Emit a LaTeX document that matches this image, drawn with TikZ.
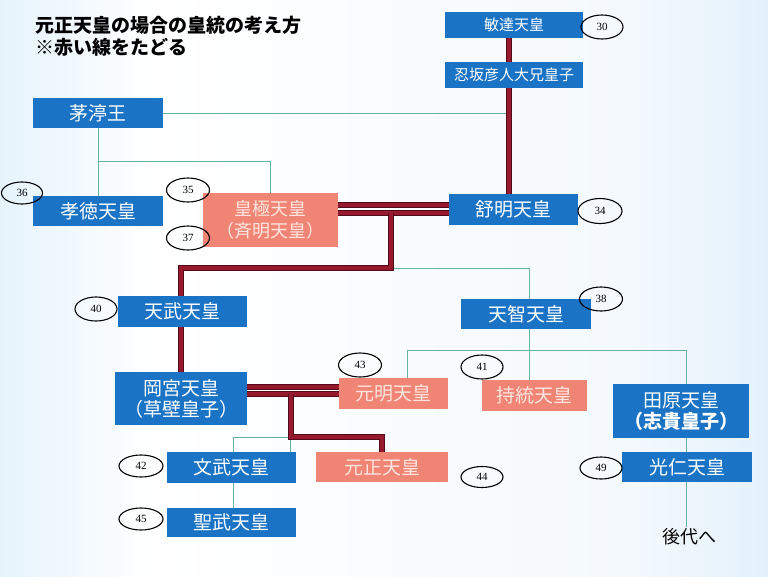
\documentclass[tikz,border=0pt]{standalone}
\usepackage{fontspec}
\setmainfont{Noto Sans CJK JP}
\newfontfamily\numfont{Liberation Serif}
\usetikzlibrary{shapes.geometric}
\pgfdeclarelayer{bg}
\pgfdeclarelayer{lines}
\pgfsetlayers{bg,lines,main}
\definecolor{boxblue}{RGB}{26,115,196}
\definecolor{salmon}{RGB}{241,133,117}
\definecolor{salmontext}{RGB}{253,228,222}
\definecolor{redfill}{RGB}{150,25,45}
\definecolor{redborder}{RGB}{80,10,25}
\definecolor{greenline}{RGB}{100,180,155}
\definecolor{bgA}{RGB}{158,208,242}
\definecolor{bgB}{RGB}{192,226,248}
\definecolor{bgC}{RGB}{244,249,253}
\definecolor{bgD}{RGB}{205,230,249}
\definecolor{bgE}{RGB}{172,215,245}
\pgfdeclarehorizontalshading{bgshade}{100bp}{color(0bp)=(bgA); color(10bp)=(bgB); color(35bp)=(white); color(66bp)=(bgC); color(88bp)=(bgD); color(100bp)=(bgE)}
\tikzset{
  bluebox/.style={fill=boxblue, text=white, inner sep=0pt, align=center, font=\fontsize{19}{21}\selectfont},
  pinkbox/.style={fill=salmon, text=salmontext, inner sep=0pt, align=center, font=\fontsize{19}{21}\selectfont},
  num/.style={ellipse, draw=black, line width=1.1pt, inner sep=0pt, font=\numfont\fontsize{11}{12}\selectfont},
  redline/.style={draw=redfill, line width=3.4pt, line join=miter, preaction={draw=redborder, line width=5.4pt, line join=miter}},
  greenl/.style={draw=greenline, line width=1pt},
  titletext/.style={anchor=base west, inner sep=0pt, font=\fontsize{19}{23}\selectfont\bfseries}
}
\begin{document}
\begin{tikzpicture}[x=1pt,y=-1pt]
\useasboundingbox (0,0) rectangle (768,576);
\begin{pgfonlayer}{bg}
\shade[shading=bgshade] (0,0) rectangle (768,576);
\end{pgfonlayer}

% title
\node[titletext] (t1) at (35,32) {元正天皇の場合の皇統の考え方};
\node[titletext] (t2) at (35,54) {※赤い線をたどる};

% boxes
\node[bluebox, minimum width=138pt, minimum height=26pt, font=\fontsize{15}{17}\selectfont] (bidatsu) at (514,25) {敏達天皇};
\node[bluebox, minimum width=138pt, minimum height=26pt, font=\fontsize{15}{17}\selectfont] (oshisaka) at (514,75) {忍坂彦人大兄皇子};
\node[bluebox, minimum width=130pt, minimum height=30pt] (chinu) at (98,113) {茅渟王};
\node[bluebox, minimum width=130pt, minimum height=30pt] (kotoku) at (98,211) {孝徳天皇};
\node[pinkbox, minimum width=135pt, minimum height=54pt, font=\fontsize{18}{22}\selectfont] (kogyoku) at (270.5,220) {皇極天皇\\（斉明天皇）};
\node[bluebox, minimum width=129pt, minimum height=31pt] (jomei) at (513.5,209.5) {舒明天皇};
\node[bluebox, minimum width=129pt, minimum height=31pt] (tenmu) at (182.5,311.5) {天武天皇};
\node[bluebox, minimum width=130pt, minimum height=30pt] (tenji) at (526,314) {天智天皇};
\node[bluebox, minimum width=132pt, minimum height=53pt, font=\fontsize{19}{21}\selectfont] (okamiya) at (181,398.5) {岡宮天皇\\（草壁皇子）};
\node[pinkbox, minimum width=109pt, minimum height=31pt] (genmei) at (393.5,393.5) {元明天皇};
\node[pinkbox, minimum width=105pt, minimum height=31pt] (jito) at (534.5,395.5) {持統天皇};
\node[bluebox, minimum width=136pt, minimum height=54pt, font=\fontsize{19}{21}\selectfont] (tahara) at (681,411) {田原天皇\\\textbf{（志貴皇子）}};
\node[bluebox, minimum width=130pt, minimum height=30pt] (konin) at (687,467) {光仁天皇};
\node[pinkbox, minimum width=132pt, minimum height=30pt] (gensho) at (382,467) {元正天皇};
\node[bluebox, minimum width=129pt, minimum height=31pt] (monmu) at (231.5,467.5) {文武天皇};
\node[bluebox, minimum width=129pt, minimum height=29pt] (shomu) at (231.5,522.5) {聖武天皇};
\node[inner sep=2pt, font=\fontsize{18}{20}\selectfont, text=black] (later) at (689,537) {後代へ};

% numbers
\node[num, minimum width=42pt, minimum height=24pt] (e30) at (602,27) {30};
\node[num, minimum width=41pt, minimum height=22pt] (e36) at (22,193) {36};
\node[num, minimum width=43pt, minimum height=24pt] (e35) at (188,190) {35};
\node[num, minimum width=43pt, minimum height=24pt] (e37) at (188,238) {37};
\node[num, minimum width=44pt, minimum height=25pt] (e34) at (600,211) {34};
\node[num, minimum width=42pt, minimum height=24pt] (e40) at (96,309) {40};
\node[num, minimum width=43pt, minimum height=24pt] (e38) at (601,299) {38};
\node[num, minimum width=43pt, minimum height=24pt] (e43) at (360,365) {43};
\node[num, minimum width=42pt, minimum height=24pt] (e41) at (482,367) {41};
\node[num, minimum width=42pt, minimum height=21pt] (e44) at (482,477) {44};
\node[num, minimum width=44pt, minimum height=22pt] (e42) at (141,466) {42};
\node[num, minimum width=44pt, minimum height=22pt] (e45) at (141,519) {45};
\node[num, minimum width=42pt, minimum height=22pt] (e49) at (601,468) {49};

\begin{pgfonlayer}{lines}
% green connectors
\draw[greenl] (chinu.east) -- (509,113);
\draw[greenl] (98,0 |- chinu.south) -- (98,0 |- kotoku.north);
\draw[greenl] (98,161) -- (270,161) -- (270,0 |- kogyoku.north);
\draw[greenl] (391,268) -- (529,268) -- (529,0 |- tenji.north);
\draw[greenl] (529,0 |- tenji.south) -- (529,0 |- jito.north);
\draw[greenl] (407,0 |- genmei.north) -- (407,350) -- (686,350) -- (686,0 |- tahara.north);
\draw[greenl] (686,0 |- tahara.south) -- (686,0 |- later.north);
\draw[greenl] (291,437) -- (233,437) -- (233,0 |- monmu.north);
\draw[greenl] (290,437) -- (290,0 |- monmu.north);
\draw[greenl] (233,0 |- monmu.south) -- (233,0 |- shomu.north);
% red line of descent
\draw[redline] (509,0 |- bidatsu.south) -- (509,0 |- oshisaka.north);
\draw[redline] (509,0 |- oshisaka.south) -- (509,0 |- jomei.north);
\draw[redline] (kogyoku.east |- 0,205) -- (jomei.west |- 0,205);
\draw[redline] (kogyoku.east |- 0,213) -- (jomei.west |- 0,213);
\draw[redline] (391,213) -- (391,268) -- (181,268) -- (181,0 |- tenmu.north);
\draw[redline] (181,0 |- tenmu.south) -- (181,0 |- okamiya.north);
\draw[redline] (okamiya.east |- 0,387) -- (genmei.west |- 0,387);
\draw[redline] (okamiya.east |- 0,394) -- (genmei.west |- 0,394);
\draw[redline] (291,394) -- (291,437) -- (382,437) -- (382,0 |- gensho.north);
\end{pgfonlayer}
\end{tikzpicture}
\end{document}
